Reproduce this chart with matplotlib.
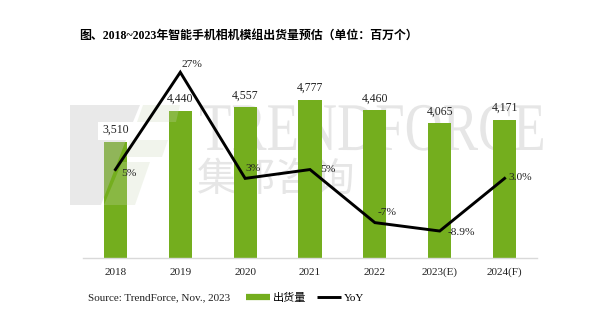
import matplotlib
matplotlib.use("Agg")
import matplotlib.pyplot as plt
from matplotlib.patches import Polygon, PathPatch
from matplotlib.textpath import TextPath
from matplotlib.font_manager import FontProperties
from matplotlib.transforms import Affine2D
from matplotlib.lines import Line2D

# ---- data ----
categories = ["2018", "2019", "2020", "2021", "2022", "2023(E)", "2024(F)"]
shipments = [3510, 4440, 4557, 4777, 4460, 4065, 4171]
yoy = [5, 27, 3, 5, -7, -8.9, 3.0]
yoy_labels = ["5%", "27%", "3%", "5%", "-7%", "-8.9%", "3.0%"]

title = "图、2018~2023年智能手机相机模组出货量预估（单位：百万个）"
source = "Source: TrendForce, Nov., 2023"
legend_bar = "出货量"
legend_line = "YoY"

# ---- style ----
W, H = 600, 331
GREEN = "#74ae1e"
SERIF = ["Liberation Serif", "Noto Sans CJK SC"]
yoy_offsets_px = [(6, -4), (1, 8), (0, 10), (10, 0), (3, 10), (8, -1), (4, 1)]

fig = plt.figure(figsize=(W / 100, H / 100), dpi=100)
fig.patch.set_facecolor("white")

def fx(x):
    return x / W

def fy(y):
    return 1 - y / H

ax = fig.add_axes([fx(83), fy(258), fx(537) - fx(83), (258 - 59) / H])
ax2 = ax.twinx()

x = list(range(len(categories)))
bars = ax.bar(x, shipments, width=0.355, color=GREEN, zorder=2)
ax.set_xlim(-0.5, len(categories) - 0.5)
ax.set_ylim(0, 6000)
ax2.set_ylim(-15, 30)

for a in (ax, ax2):
    for s in ("left", "right", "top"):
        a.spines[s].set_visible(False)
    a.set_yticks([])
ax.spines["bottom"].set_color("#d9d9d9")
ax.spines["bottom"].set_linewidth(1.0)
ax2.spines["bottom"].set_visible(False)

ax.set_xticks(x)
ax.set_xticklabels(categories, fontfamily=SERIF, fontsize=8, color="#222222")
ax.tick_params(axis="x", length=0, pad=7)

for xi, v in zip(x, shipments):
    ax.annotate(f"{v:,}", (xi, v), xytext=(0, 4), textcoords="offset points",
                ha="center", va="bottom", fontfamily=SERIF, fontsize=8.5,
                color="#222222")

ax2.plot(x, yoy, color="black", lw=2.1, zorder=5, solid_joinstyle="miter")
for xi, v, lab, (dx, dy) in zip(x, yoy, yoy_labels, yoy_offsets_px):
    ax2.annotate(lab, (xi, v), xytext=(dx * 0.72, dy * 0.72),
                 textcoords="offset points", ha="left", va="center",
                 fontfamily=SERIF, fontsize=8.2, color="#222222", zorder=6)

# ---- watermark ----
# TRENDFORCE text
tp = TextPath((0, 0), "TRENDFORCE", size=1,
              prop=FontProperties(family="Liberation Serif"))
ext = tp.get_extents()
width_px = 343
height_px = 45  # cap height
sx = width_px / (ext.x1 - ext.x0)
sy = height_px / 0.66
tr = Affine2D().translate(-ext.x0, 0).scale(sx / W, sy / H).translate(fx(200), fy(150)) + fig.transFigure
ax.add_patch(PathPatch(tp, transform=tr, facecolor="#e6e6e6", edgecolor="none",
                       zorder=0.5, clip_on=False))
ax.text(fx(197), fy(180), "集邦咨询", transform=fig.transFigure,
        fontfamily="Noto Sans CJK SC", fontweight="light", fontsize=28.5,
        color="#e6e6e6", ha="left", va="center", zorder=0.5, clip_on=False)

def poly(pts, color, alpha):
    p = Polygon([(fx(a), fy(b)) for a, b in pts], closed=True,
                transform=fig.transFigure, facecolor=color, edgecolor="none",
                alpha=alpha, zorder=3, clip_on=False)
    ax.add_patch(p)

poly([(70, 105), (140, 105), (133, 122), (98, 122), (98, 140), (126, 140),
      (101, 205), (70, 205)], "#c4c4c4", 0.36)
poly([(143, 105), (180, 105), (176, 122), (137, 122)], "#c8d7b4", 0.25)
poly([(130, 140), (168, 140), (162, 157), (124, 157)], "#c8d7b4", 0.25)
poly([(122, 162), (150, 162), (135, 205), (104, 205)], "#c8d7b4", 0.25)

# ---- title / source / legend ----
fig.text(fx(79), fy(36), title, fontfamily=SERIF, fontweight="bold",
         fontsize=8.6, ha="left", va="center", color="black")
fig.text(fx(88), fy(298), source, fontfamily=SERIF, fontsize=8,
         ha="left", va="center", color="#222222")

handles = [Line2D([0], [0], color=GREEN, lw=4.5, solid_capstyle="butt"),
           Line2D([0], [0], color="black", lw=2.1, solid_capstyle="butt")]
fig.legend(handles, [legend_bar, legend_line], loc="center left",
           bbox_to_anchor=(fx(246), fy(298)), ncol=2, frameon=False,
           handlelength=2.2, handletextpad=0.25, columnspacing=0.9,
           borderpad=0, borderaxespad=0,
           prop=FontProperties(family=SERIF, size=8))

fig.savefig("out.png", dpi=100, facecolor="white")
